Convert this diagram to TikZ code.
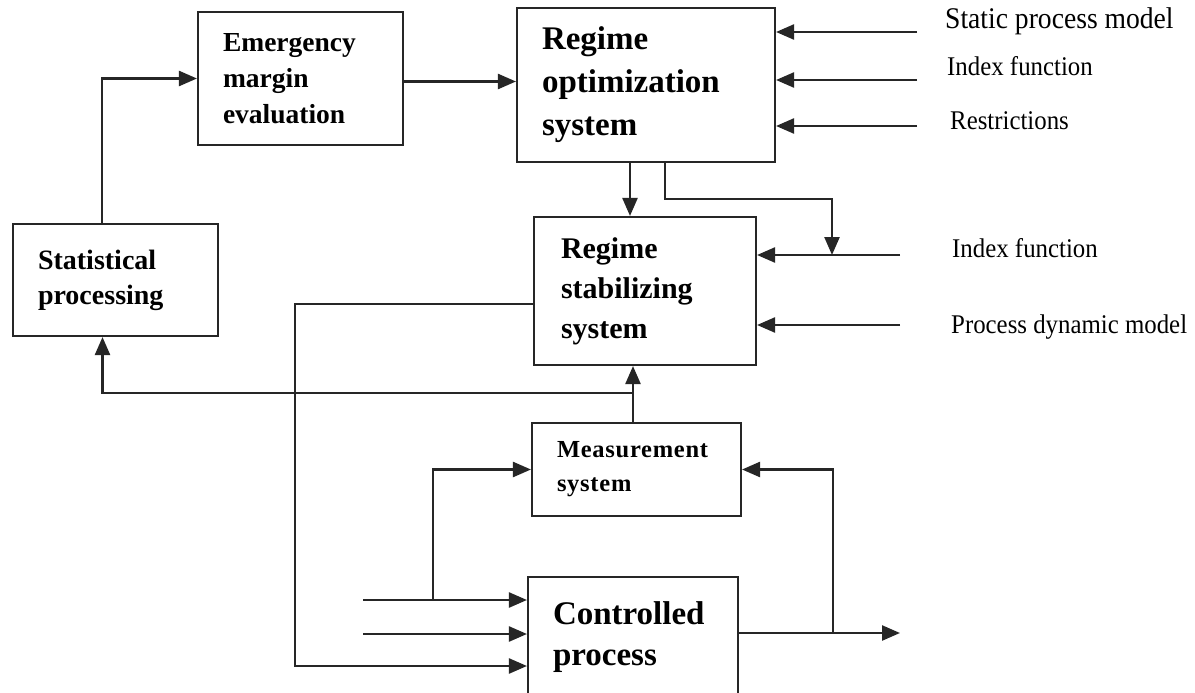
\documentclass[tikz,border=0pt]{standalone}
\usepackage{fontspec}
\setmainfont{Liberation Serif}
\newfontfamily\lblfont{Liberation Serif}[FakeStretch=0.92]
\usetikzlibrary{arrows.meta}

% block with left-aligned bold text:
% name, x1, y1, x2, y2, left padding, font size, baseline skip, text
\newcommand\mkblock[9]{%
  \pgfmathsetmacro\blkW{#4-#2}%
  \pgfmathsetmacro\blkH{#5-#3}%
  \pgfmathsetmacro\blkT{#4-#2-2*#6}%
  \node[blk, minimum width=\blkW pt, minimum height=\blkH pt,
        inner xsep=#6pt, text width=\blkT pt,
        font=\bfseries\fontsize{#7}{#8}\selectfont]
        (#1) at ({(#2+#4)/2},{(#3+#5)/2}) {#9};}

\begin{document}
\begin{tikzpicture}[x=1pt,y=-1pt,
  wire/.style={draw=black!85, line width=2.4pt},
  arr/.style={wire, -{Triangle[length=18pt,width=15pt]}},
  blk/.style={draw=black!85, line width=2.1pt, rectangle, inner ysep=0pt, align=left},
  lbl/.style={anchor=base west, inner sep=0pt, text=black,
              font=\lblfont\fontsize{27}{32}\selectfont}]

\useasboundingbox[fill=white,draw=none] (0,0) rectangle (1195,693);

% blocks
\mkblock{emg}{198}{12}{403}{145}{25}{27.5}{36}{Emergency\\margin\\evaluation}
\mkblock{opt}{517}{8}{775}{162}{25}{33}{43}{Regime\\optimization\\system}
\mkblock{stat}{13}{224}{218}{336}{25}{28}{35}{Statistical\\processing}
\mkblock{stab}{534}{217}{756}{365}{27}{30}{40}{Regime\\stabilizing\\system}
\mkblock{meas}{532}{423}{741}{516}{25}{24.5}{34}{\addfontfeature{LetterSpace=3}Measurement\\system}
\mkblock{proc}{528}{577}{738}{697}{25}{33}{41}{Controlled\\process}

% external inputs, branch points and output
\coordinate (in1) at (917,32);
\coordinate (in2) at (917,80);
\coordinate (in3) at (917,126);
\coordinate (in4) at (900,255);
\coordinate (in5) at (900,325);
\coordinate (bend) at (832,199);
\coordinate (tap) at (832,255);
\coordinate (lft) at (295,666);
\coordinate (fb) at (633,393);
\coordinate (p1) at (363,600);
\coordinate (p2) at (363,634);
\coordinate (mb) at (433,600);
\coordinate (out) at (900,633);
\coordinate (ob) at (833,633);

% labels of the inputs
\node[lbl, font=\lblfont\fontsize{30}{34}\selectfont] (l1) at (945,29) {Static process model};
\node[lbl] (l2) at (947,76) {Index function};
\node[lbl] (l3) at (950,129) {Restrictions};
\node[lbl] (l4) at (952,257) {Index function};
\node[lbl] (l5) at (951,333) {Process dynamic model};

% connectors
\draw[arr] ([xshift=-13.5pt]stat.north) |- (emg.west);
\draw[arr] ([yshift=-3pt]emg.east) -- ([yshift=-3pt]emg.east -| opt.west);
\draw[arr] (in1) -- (in1 -| opt.east);
\draw[arr] (in2) -- (in2 -| opt.east);
\draw[arr] (in3) -- (in3 -| opt.east);
\draw[arr] ([xshift=-16pt]opt.south) -- ([xshift=-16pt]opt.south |- stab.north);
\draw[arr] ([xshift=19pt]opt.south) |- (bend) -- (tap);
\draw[arr] (in4) -- (in4 -| stab.east);
\draw[arr] (in5) -- (in5 -| stab.east);
\draw[arr] ([yshift=-13pt]stab.west) -| (lft) -- (lft -| proc.west);
\draw[arr] ([xshift=-3.5pt]meas.north) -- ([xshift=-3.5pt]meas.north |- stab.south);
\draw[arr] (fb) -| ([xshift=-13pt]stat.south);
\draw[arr] (p1) -- (p1 -| proc.west);
\draw[arr] (p2) -- (p2 -| proc.west);
\draw[arr] (mb) |- (meas.west);
\draw[arr] (proc.east |- out) -- (out);
\draw[arr] (ob) |- (meas.east);

\end{tikzpicture}
\end{document}
